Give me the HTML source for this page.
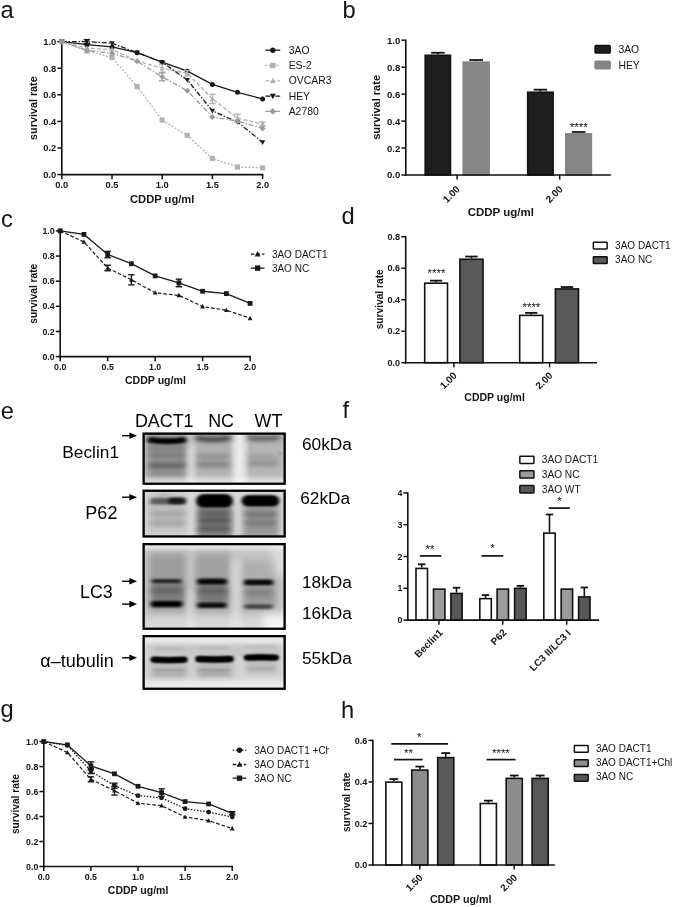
<!DOCTYPE html>
<html lang="en">
<head>
<meta charset="utf-8">
<title>Figure</title>
<style>
html,body{margin:0;padding:0;background:#fff;}
body{width:675px;height:907px;overflow:hidden;}
svg{display:block;font-family:'Liberation Sans', sans-serif;}
</style>
</head>
<body>
<svg width="675" height="907" viewBox="0 0 675 907" font-family='"Liberation Sans", sans-serif'>
<rect width="675" height="907" fill="#fff"/>
<defs>
<filter id="b1" x="-30%" y="-200%" width="160%" height="500%"><feGaussianBlur stdDeviation="2.2 1.1"/></filter>
<filter id="b2" x="-30%" y="-200%" width="160%" height="500%"><feGaussianBlur stdDeviation="3 2"/></filter>
<filter id="b3" x="-50%" y="-50%" width="200%" height="200%"><feGaussianBlur stdDeviation="5 5"/></filter>
<filter id="b4" x="-50%" y="-50%" width="200%" height="200%"><feGaussianBlur stdDeviation="3.2 4"/></filter>
<filter id="u0" filterUnits="userSpaceOnUse" x="130" y="425" width="170" height="275"><feGaussianBlur stdDeviation="1.6 0.8"/></filter>
<filter id="u1" filterUnits="userSpaceOnUse" x="130" y="425" width="170" height="275"><feGaussianBlur stdDeviation="2.2 1.1"/></filter>
<filter id="u2" filterUnits="userSpaceOnUse" x="130" y="425" width="170" height="275"><feGaussianBlur stdDeviation="3 2"/></filter>
<filter id="b0" x="-30%" y="-200%" width="160%" height="500%"><feGaussianBlur stdDeviation="1.6 0.8"/></filter>
<clipPath id="cb0"><rect x="142.5" y="432.5" width="143.3" height="52.39999999999998"/></clipPath>
<clipPath id="cb1"><rect x="142.5" y="489.6" width="143.3" height="48.0"/></clipPath>
<clipPath id="cb2"><rect x="142.5" y="543.0" width="143.3" height="86.89999999999998"/></clipPath>
<clipPath id="cb3"><rect x="142.5" y="635.0" width="143.3" height="54.89999999999998"/></clipPath>
</defs>
<g clip-path="url(#cb0)">
<rect x="142.5" y="432.5" width="143.3" height="52.39999999999998" fill="#cecece"/>
<rect x="146.0" y="430.0" width="41.0" height="50.0" rx="2" fill="#000" opacity="0.26" filter="url(#b4)"/>
<rect x="195.0" y="430.0" width="37.0" height="48.0" rx="2" fill="#000" opacity="0.15" filter="url(#b4)"/>
<rect x="246.0" y="430.0" width="38.0" height="48.0" rx="2" fill="#000" opacity="0.12" filter="url(#b4)"/>
<rect x="234.0" y="430.0" width="11.5" height="60.0" rx="2" fill="#fff" opacity="0.6" filter="url(#b2)"/>
<rect x="187.5" y="446.0" width="7.0" height="44.0" rx="2" fill="#fff" opacity="0.3" filter="url(#b2)"/>
<rect x="140.0" y="478.0" width="150.0" height="10.0" rx="2" fill="#fff" opacity="0.45" filter="url(#b2)"/>
<path d="M150.5,440.0 Q167.0,442.4 183.5,440.0" fill="none" stroke="#000" stroke-width="6.2" stroke-linecap="round" opacity="0.97" filter="url(#u1)"/>
<path d="M197.0,438.2 Q213.0,440.8 229.0,438.2" fill="none" stroke="#000" stroke-width="4.6" stroke-linecap="round" opacity="0.72" filter="url(#u2)"/>
<path d="M249.0,437.8 Q263.5,439.8 278.0,437.8" fill="none" stroke="#000" stroke-width="4.0" stroke-linecap="round" opacity="0.6" filter="url(#u2)"/>
<rect x="148.0" y="445.5" width="38.0" height="5.0" rx="2.5" fill="#000" opacity="0.18" filter="url(#b2)"/>
<rect x="148.0" y="453.2" width="38.0" height="4.5" rx="2.2" fill="#000" opacity="0.22" filter="url(#b2)"/>
<rect x="148.0" y="462.8" width="38.0" height="5.5" rx="2.8" fill="#000" opacity="0.36" filter="url(#b2)"/>
<rect x="150.0" y="472.5" width="34.0" height="3.0" rx="1.5" fill="#000" opacity="0.15" filter="url(#b2)"/>
<rect x="196.0" y="454.5" width="34.0" height="4.0" rx="2.0" fill="#000" opacity="0.22" filter="url(#b2)"/>
<rect x="196.0" y="462.2" width="34.0" height="4.5" rx="2.2" fill="#000" opacity="0.3" filter="url(#b2)"/>
<rect x="248.0" y="455.0" width="30.0" height="4.0" rx="2.0" fill="#000" opacity="0.15" filter="url(#b2)"/>
<rect x="248.0" y="461.2" width="30.0" height="4.5" rx="2.2" fill="#000" opacity="0.24" filter="url(#b2)"/>
<circle cx="280.3" cy="453.5" r="1.1" fill="#000" opacity="0.45" filter="url(#b0)"/>
</g>
<g clip-path="url(#cb1)">
<rect x="142.5" y="489.6" width="143.3" height="48.0" fill="#d8d8d8"/>
<rect x="148.0" y="494.0" width="39.0" height="38.0" rx="2" fill="#000" opacity="0.12" filter="url(#b4)"/>
<rect x="197.0" y="500.0" width="35.0" height="40.0" rx="2" fill="#000" opacity="0.42" filter="url(#b4)"/>
<rect x="243.0" y="500.0" width="36.0" height="40.0" rx="2" fill="#000" opacity="0.3" filter="url(#b4)"/>
<rect x="150.0" y="497.9" width="35.0" height="6.5" rx="3.2" fill="#000" opacity="0.5" filter="url(#b1)"/>
<rect x="168.5" y="497.6" width="17.0" height="6.5" rx="3.2" fill="#000" opacity="0.75" filter="url(#b1)"/>
<rect x="158.5" y="493.8" width="9.0" height="2.5" rx="1.2" fill="#000" opacity="0.2" filter="url(#b2)"/>
<rect x="196.8" y="494.3" width="35.5" height="13.0" rx="6.5" fill="#000" opacity="1.0" filter="url(#b1)"/>
<rect x="198.5" y="495.8" width="32.0" height="10.0" rx="5.0" fill="#000" opacity="1.0" filter="url(#b1)"/>
<rect x="242.2" y="495.3" width="36.5" height="11.0" rx="5.5" fill="#000" opacity="1.0" filter="url(#b1)"/>
<rect x="244.0" y="496.8" width="33.0" height="8.0" rx="4.0" fill="#000" opacity="1.0" filter="url(#b1)"/>
<rect x="198.0" y="511.8" width="33.0" height="3.5" rx="1.8" fill="#000" opacity="0.35" filter="url(#b2)"/>
<rect x="198.0" y="518.5" width="33.0" height="4.0" rx="2.0" fill="#000" opacity="0.4" filter="url(#b2)"/>
<rect x="198.0" y="526.5" width="33.0" height="4.0" rx="2.0" fill="#000" opacity="0.35" filter="url(#b2)"/>
<rect x="244.5" y="512.5" width="32.0" height="4.0" rx="2.0" fill="#000" opacity="0.3" filter="url(#b2)"/>
<rect x="244.5" y="521.0" width="32.0" height="4.0" rx="2.0" fill="#000" opacity="0.25" filter="url(#b2)"/>
<rect x="151.0" y="512.0" width="34.0" height="4.0" rx="2.0" fill="#000" opacity="0.17" filter="url(#b2)"/>
<rect x="151.0" y="521.0" width="34.0" height="4.0" rx="2.0" fill="#000" opacity="0.17" filter="url(#b2)"/>
</g>
<g clip-path="url(#cb2)">
<rect x="142.5" y="543.0" width="143.3" height="86.89999999999998" fill="#c6c6c6"/>
<rect x="140.0" y="540.0" width="150.0" height="9.5" rx="2" fill="#fff" opacity="0.6" filter="url(#b2)"/>
<rect x="149.0" y="553.0" width="37.0" height="59.0" rx="2" fill="#000" opacity="0.21" filter="url(#b4)"/>
<rect x="195.0" y="553.0" width="35.0" height="59.0" rx="2" fill="#000" opacity="0.19" filter="url(#b4)"/>
<rect x="242.0" y="560.0" width="35.0" height="52.0" rx="2" fill="#000" opacity="0.12" filter="url(#b4)"/>
<rect x="152.0" y="583.0" width="32.0" height="20.0" rx="2" fill="#000" opacity="0.2" filter="url(#b2)"/>
<rect x="198.0" y="583.0" width="30.0" height="20.0" rx="2" fill="#000" opacity="0.24" filter="url(#b2)"/>
<rect x="245.0" y="585.0" width="30.0" height="19.0" rx="2" fill="#000" opacity="0.12" filter="url(#b2)"/>
<rect x="272.0" y="545.0" width="18.0" height="30.0" rx="2" fill="#fff" opacity="0.4" filter="url(#b3)"/>
<rect x="262.0" y="614.0" width="28.0" height="20.0" rx="2" fill="#fff" opacity="0.85" filter="url(#b3)"/>
<rect x="140.0" y="617.0" width="122.0" height="17.0" rx="2" fill="#fff" opacity="0.35" filter="url(#b3)"/>
<rect x="186.5" y="590.0" width="8.0" height="44.0" rx="2" fill="#fff" opacity="0.25" filter="url(#b2)"/>
<rect x="231.0" y="560.0" width="10.0" height="74.0" rx="2" fill="#fff" opacity="0.25" filter="url(#b2)"/>
<rect x="151.5" y="579.1" width="30.0" height="4.2" rx="2.1" fill="#000" opacity="0.75" filter="url(#b1)"/>
<rect x="197.0" y="578.5" width="30.0" height="6.0" rx="3.0" fill="#000" opacity="0.95" filter="url(#b1)"/>
<rect x="243.8" y="579.5" width="29.5" height="5.8" rx="2.9" fill="#000" opacity="0.95" filter="url(#b1)"/>
<rect x="150.5" y="588.5" width="32.0" height="4.0" rx="2.0" fill="#000" opacity="0.25" filter="url(#b2)"/>
<rect x="197.5" y="589.0" width="30.0" height="4.0" rx="2.0" fill="#000" opacity="0.25" filter="url(#b2)"/>
<rect x="244.5" y="590.5" width="28.0" height="4.0" rx="2.0" fill="#000" opacity="0.2" filter="url(#b2)"/>
<rect x="150.8" y="601.1" width="31.5" height="6.2" rx="3.1" fill="#000" opacity="1.0" filter="url(#b1)"/>
<rect x="197.2" y="602.4" width="29.5" height="5.6" rx="2.8" fill="#000" opacity="0.92" filter="url(#b1)"/>
<rect x="244.0" y="604.2" width="29.0" height="4.8" rx="2.4" fill="#000" opacity="0.6" filter="url(#b1)"/>
</g>
<g clip-path="url(#cb3)">
<rect x="142.5" y="635.0" width="143.3" height="54.89999999999998" fill="#d4d4d4"/>
<rect x="140.0" y="632.0" width="150.0" height="11.0" rx="2" fill="#fff" opacity="0.55" filter="url(#b2)"/>
<rect x="140.0" y="680.0" width="150.0" height="15.0" rx="2" fill="#fff" opacity="0.5" filter="url(#b2)"/>
<rect x="150.0" y="662.0" width="38.0" height="16.0" rx="2" fill="#000" opacity="0.12" filter="url(#b2)"/>
<rect x="196.0" y="662.0" width="37.0" height="16.0" rx="2" fill="#000" opacity="0.13" filter="url(#b2)"/>
<rect x="245.0" y="660.0" width="33.0" height="14.0" rx="2" fill="#000" opacity="0.1" filter="url(#b2)"/>
<rect x="150.0" y="645.0" width="130.0" height="12.0" rx="2" fill="#000" opacity="0.06" filter="url(#b2)"/>
<path d="M153.4,659.7 Q169.1,660.5 184.8,659.7" fill="none" stroke="#000" stroke-width="5.8" stroke-linecap="round" opacity="1.0" filter="url(#u0)"/>
<path d="M198.2,659.1 Q214.5,659.9 230.8,659.1" fill="none" stroke="#000" stroke-width="6.0" stroke-linecap="round" opacity="1.0" filter="url(#u0)"/>
<path d="M246.7,657.6 Q261.4,657.0 276.0,657.6" fill="none" stroke="#000" stroke-width="5.8" stroke-linecap="round" opacity="1.0" filter="url(#u0)"/>
<path d="M154.5,659.7 Q169.0,660.5 183.5,659.7" fill="none" stroke="#000" stroke-width="4.4" stroke-linecap="round" opacity="1.0" filter="url(#u0)"/>
<path d="M199.5,659.1 Q214.5,659.9 229.5,659.1" fill="none" stroke="#000" stroke-width="4.6" stroke-linecap="round" opacity="1.0" filter="url(#u0)"/>
<path d="M248.0,657.6 Q261.5,657.0 275.0,657.6" fill="none" stroke="#000" stroke-width="4.4" stroke-linecap="round" opacity="1.0" filter="url(#u0)"/>
<rect x="153.0" y="669.0" width="32.0" height="2.6" rx="1.3" fill="#000" opacity="0.16" filter="url(#b1)"/>
<rect x="198.5" y="669.0" width="32.0" height="2.6" rx="1.3" fill="#000" opacity="0.18" filter="url(#b1)"/>
<rect x="247.0" y="667.3" width="28.0" height="2.4" rx="1.2" fill="#000" opacity="0.12" filter="url(#b1)"/>
<rect x="154.0" y="673.4" width="30.0" height="2.2" rx="1.1" fill="#000" opacity="0.1" filter="url(#b1)"/>
<rect x="199.5" y="673.4" width="30.0" height="2.2" rx="1.1" fill="#000" opacity="0.12" filter="url(#b1)"/>
<rect x="154.0" y="647.4" width="30.0" height="2.4" rx="1.2" fill="#000" opacity="0.1" filter="url(#b1)"/>
<rect x="199.5" y="646.4" width="30.0" height="2.4" rx="1.2" fill="#000" opacity="0.1" filter="url(#b1)"/>
<rect x="247.0" y="645.3" width="28.0" height="2.4" rx="1.2" fill="#000" opacity="0.07" filter="url(#b1)"/>
</g>
<rect x="143.65" y="433.65" width="141.0" height="50.09999999999998" fill="none" stroke="#000" stroke-width="2.3"/>
<rect x="143.65" y="490.75" width="141.0" height="45.7" fill="none" stroke="#000" stroke-width="2.3"/>
<rect x="143.65" y="544.15" width="141.0" height="84.59999999999998" fill="none" stroke="#000" stroke-width="2.3"/>
<rect x="143.65" y="636.15" width="141.0" height="52.59999999999998" fill="none" stroke="#000" stroke-width="2.3"/>
<text x="134.9" y="426.9" font-size="17.9" text-anchor="start" fill="#000">DACT1</text>
<text x="208.2" y="426.9" font-size="17.9" text-anchor="start" fill="#000">NC</text>
<text x="254.5" y="426.9" font-size="17.9" text-anchor="start" fill="#000">WT</text>
<text x="119" y="457.6" font-size="17.3" text-anchor="end" fill="#000">Beclin1</text>
<text x="117.4" y="518.5" font-size="18" text-anchor="end" fill="#000">P62</text>
<text x="112.7" y="598.2" font-size="17.8" text-anchor="end" fill="#000">LC3</text>
<text x="113.8" y="667.4" font-size="18" text-anchor="end" fill="#000">α–tubulin</text>
<text x="351.9" y="450" font-size="17.3" text-anchor="end" fill="#000">60kDa</text>
<text x="350.2" y="503.7" font-size="17.3" text-anchor="end" fill="#000">62kDa</text>
<text x="351.9" y="587.7" font-size="17.3" text-anchor="end" fill="#000">18kDa</text>
<text x="351.9" y="618.7" font-size="17.3" text-anchor="end" fill="#000">16kDa</text>
<text x="351.9" y="664.3" font-size="17.3" text-anchor="end" fill="#000">55kDa</text>
<path d="M122.1,435.7 H132.0" stroke="#000" stroke-width="1.4" fill="none"/>
<path d="M137.0,435.7 L129.4,432.4 L129.4,439.0 Z" fill="#000"/>
<path d="M122.1,497.2 H132.0" stroke="#000" stroke-width="1.4" fill="none"/>
<path d="M137.0,497.2 L129.4,493.9 L129.4,500.5 Z" fill="#000"/>
<path d="M122.1,581.3 H132.0" stroke="#000" stroke-width="1.4" fill="none"/>
<path d="M137.0,581.3 L129.4,578.0 L129.4,584.5999999999999 Z" fill="#000"/>
<path d="M122.1,604.1 H132.0" stroke="#000" stroke-width="1.4" fill="none"/>
<path d="M137.0,604.1 L129.4,600.8000000000001 L129.4,607.4 Z" fill="#000"/>
<path d="M122.1,657.8 H132.0" stroke="#000" stroke-width="1.4" fill="none"/>
<path d="M137.0,657.8 L129.4,654.5 L129.4,661.0999999999999 Z" fill="#000"/>
<text x="0.60" y="18.10" font-size="23.7" font-weight="normal" text-anchor="start" fill="#141414">a</text>
<text x="342.60" y="18.10" font-size="23.7" font-weight="normal" text-anchor="start" fill="#141414">b</text>
<text x="0.90" y="226.80" font-size="23.7" font-weight="normal" text-anchor="start" fill="#141414">c</text>
<text x="341.60" y="224.30" font-size="23.7" font-weight="normal" text-anchor="start" fill="#141414">d</text>
<text x="0.70" y="418.50" font-size="23.7" font-weight="normal" text-anchor="start" fill="#141414">e</text>
<text x="342.60" y="417.90" font-size="23.7" font-weight="normal" text-anchor="start" fill="#141414">f</text>
<text x="0.60" y="717.00" font-size="23.7" font-weight="normal" text-anchor="start" fill="#141414">g</text>
<text x="341.10" y="717.80" font-size="23.7" font-weight="normal" text-anchor="start" fill="#141414">h</text>
<line x1="61.80" y1="40.85" x2="61.80" y2="175.40" stroke="#111" stroke-width="1.6" stroke-linecap="butt"/>
<line x1="61.00" y1="174.60" x2="263.40" y2="174.60" stroke="#111" stroke-width="1.6" stroke-linecap="butt"/>
<line x1="57.40" y1="174.60" x2="61.80" y2="174.60" stroke="#111" stroke-width="1.5" stroke-linecap="butt"/>
<text x="56.30" y="177.95" font-size="9.3" font-weight="bold" text-anchor="end" fill="#141414">0.0</text>
<line x1="57.40" y1="148.00" x2="61.80" y2="148.00" stroke="#111" stroke-width="1.5" stroke-linecap="butt"/>
<text x="56.30" y="151.35" font-size="9.3" font-weight="bold" text-anchor="end" fill="#141414">0.2</text>
<line x1="57.40" y1="121.40" x2="61.80" y2="121.40" stroke="#111" stroke-width="1.5" stroke-linecap="butt"/>
<text x="56.30" y="124.75" font-size="9.3" font-weight="bold" text-anchor="end" fill="#141414">0.4</text>
<line x1="57.40" y1="94.80" x2="61.80" y2="94.80" stroke="#111" stroke-width="1.5" stroke-linecap="butt"/>
<text x="56.30" y="98.15" font-size="9.3" font-weight="bold" text-anchor="end" fill="#141414">0.6</text>
<line x1="57.40" y1="68.20" x2="61.80" y2="68.20" stroke="#111" stroke-width="1.5" stroke-linecap="butt"/>
<text x="56.30" y="71.55" font-size="9.3" font-weight="bold" text-anchor="end" fill="#141414">0.8</text>
<line x1="57.40" y1="41.60" x2="61.80" y2="41.60" stroke="#111" stroke-width="1.5" stroke-linecap="butt"/>
<text x="56.30" y="44.95" font-size="9.3" font-weight="bold" text-anchor="end" fill="#141414">1.0</text>
<line x1="61.80" y1="174.60" x2="61.80" y2="179.20" stroke="#111" stroke-width="1.5" stroke-linecap="butt"/>
<text x="61.80" y="188.30" font-size="9.3" font-weight="bold" text-anchor="middle" fill="#141414">0.0</text>
<line x1="112.00" y1="174.60" x2="112.00" y2="179.20" stroke="#111" stroke-width="1.5" stroke-linecap="butt"/>
<text x="112.00" y="188.30" font-size="9.3" font-weight="bold" text-anchor="middle" fill="#141414">0.5</text>
<line x1="162.20" y1="174.60" x2="162.20" y2="179.20" stroke="#111" stroke-width="1.5" stroke-linecap="butt"/>
<text x="162.20" y="188.30" font-size="9.3" font-weight="bold" text-anchor="middle" fill="#141414">1.0</text>
<line x1="212.40" y1="174.60" x2="212.40" y2="179.20" stroke="#111" stroke-width="1.5" stroke-linecap="butt"/>
<text x="212.40" y="188.30" font-size="9.3" font-weight="bold" text-anchor="middle" fill="#141414">1.5</text>
<line x1="262.60" y1="174.60" x2="262.60" y2="179.20" stroke="#111" stroke-width="1.5" stroke-linecap="butt"/>
<text x="262.60" y="188.30" font-size="9.3" font-weight="bold" text-anchor="middle" fill="#141414">2.0</text>
<path d="M61.80,41.60 L86.90,44.66 L112.00,46.92 L137.10,52.64 L162.20,62.22 L187.30,71.13 L212.40,84.43 L237.50,92.27 L262.60,98.92" fill="none" stroke="#1a1a1a" stroke-width="1.3"/>
<circle cx="61.80" cy="41.60" r="2.5" fill="#1a1a1a"/>
<circle cx="86.90" cy="44.66" r="2.5" fill="#1a1a1a"/>
<circle cx="112.00" cy="46.92" r="2.5" fill="#1a1a1a"/>
<circle cx="137.10" cy="52.64" r="2.5" fill="#1a1a1a"/>
<circle cx="162.20" cy="62.22" r="2.5" fill="#1a1a1a"/>
<circle cx="187.30" cy="71.13" r="2.5" fill="#1a1a1a"/>
<circle cx="212.40" cy="84.43" r="2.5" fill="#1a1a1a"/>
<circle cx="237.50" cy="92.27" r="2.5" fill="#1a1a1a"/>
<circle cx="262.60" cy="98.92" r="2.5" fill="#1a1a1a"/>
<path d="M61.80,41.60 L86.90,50.91 L112.00,57.56 L137.10,86.55 L162.20,120.07 L187.30,135.37 L212.40,158.37 L237.50,167.02 L262.60,167.82" fill="none" stroke="#b2b2b2" stroke-width="1.3" stroke-dasharray="2 1.6"/>
<rect x="59.20" y="39.00" width="5.2" height="5.2" fill="#b2b2b2"/>
<rect x="84.30" y="48.31" width="5.2" height="5.2" fill="#b2b2b2"/>
<rect x="109.40" y="54.96" width="5.2" height="5.2" fill="#b2b2b2"/>
<rect x="134.50" y="83.95" width="5.2" height="5.2" fill="#b2b2b2"/>
<rect x="159.60" y="117.47" width="5.2" height="5.2" fill="#b2b2b2"/>
<rect x="184.70" y="132.77" width="5.2" height="5.2" fill="#b2b2b2"/>
<rect x="209.80" y="155.77" width="5.2" height="5.2" fill="#b2b2b2"/>
<rect x="234.90" y="164.42" width="5.2" height="5.2" fill="#b2b2b2"/>
<rect x="260.00" y="165.22" width="5.2" height="5.2" fill="#b2b2b2"/>
<path d="M61.80,41.60 L86.90,48.25 L112.00,49.58 L137.10,60.88 L162.20,68.20 L187.30,73.25 L212.40,98.92 L237.50,118.21 L262.60,124.06" fill="none" stroke="#b2b2b2" stroke-width="1.3" stroke-dasharray="4 2"/>
<line x1="162.20" y1="64.21" x2="162.20" y2="72.19" stroke="#b2b2b2" stroke-width="1.4" stroke-linecap="butt"/>
<line x1="159.00" y1="64.21" x2="165.40" y2="64.21" stroke="#b2b2b2" stroke-width="1.4" stroke-linecap="butt"/>
<line x1="159.00" y1="72.19" x2="165.40" y2="72.19" stroke="#b2b2b2" stroke-width="1.4" stroke-linecap="butt"/>
<line x1="187.30" y1="70.59" x2="187.30" y2="75.91" stroke="#b2b2b2" stroke-width="1.4" stroke-linecap="butt"/>
<line x1="184.10" y1="70.59" x2="190.50" y2="70.59" stroke="#b2b2b2" stroke-width="1.4" stroke-linecap="butt"/>
<line x1="184.10" y1="75.91" x2="190.50" y2="75.91" stroke="#b2b2b2" stroke-width="1.4" stroke-linecap="butt"/>
<line x1="212.40" y1="94.27" x2="212.40" y2="103.58" stroke="#b2b2b2" stroke-width="1.4" stroke-linecap="butt"/>
<line x1="209.20" y1="94.27" x2="215.60" y2="94.27" stroke="#b2b2b2" stroke-width="1.4" stroke-linecap="butt"/>
<line x1="209.20" y1="103.58" x2="215.60" y2="103.58" stroke="#b2b2b2" stroke-width="1.4" stroke-linecap="butt"/>
<line x1="237.50" y1="114.22" x2="237.50" y2="122.20" stroke="#b2b2b2" stroke-width="1.4" stroke-linecap="butt"/>
<line x1="234.30" y1="114.22" x2="240.70" y2="114.22" stroke="#b2b2b2" stroke-width="1.4" stroke-linecap="butt"/>
<line x1="234.30" y1="122.20" x2="240.70" y2="122.20" stroke="#b2b2b2" stroke-width="1.4" stroke-linecap="butt"/>
<line x1="262.60" y1="122.06" x2="262.60" y2="126.06" stroke="#b2b2b2" stroke-width="1.4" stroke-linecap="butt"/>
<line x1="259.40" y1="122.06" x2="265.80" y2="122.06" stroke="#b2b2b2" stroke-width="1.4" stroke-linecap="butt"/>
<line x1="259.40" y1="126.06" x2="265.80" y2="126.06" stroke="#b2b2b2" stroke-width="1.4" stroke-linecap="butt"/>
<polygon points="61.80,38.84 59.16,43.64 64.44,43.64" fill="#b2b2b2"/>
<polygon points="86.90,45.49 84.26,50.29 89.54,50.29" fill="#b2b2b2"/>
<polygon points="112.00,46.82 109.36,51.62 114.64,51.62" fill="#b2b2b2"/>
<polygon points="137.10,58.12 134.46,62.92 139.74,62.92" fill="#b2b2b2"/>
<polygon points="162.20,65.44 159.56,70.24 164.84,70.24" fill="#b2b2b2"/>
<polygon points="187.30,70.49 184.66,75.29 189.94,75.29" fill="#b2b2b2"/>
<polygon points="212.40,96.16 209.76,100.96 215.04,100.96" fill="#b2b2b2"/>
<polygon points="237.50,115.45 234.86,120.25 240.14,120.25" fill="#b2b2b2"/>
<polygon points="262.60,121.30 259.96,126.10 265.24,126.10" fill="#b2b2b2"/>
<path d="M61.80,41.60 L86.90,41.60 L112.00,43.33 L137.10,52.64 L162.20,62.22 L187.30,80.04 L212.40,110.76 L237.50,122.20 L262.60,142.28" fill="none" stroke="#1a1a1a" stroke-width="1.3" stroke-dasharray="5 1.8 1.4 1.8"/>
<line x1="86.90" y1="39.60" x2="86.90" y2="43.59" stroke="#1a1a1a" stroke-width="1.4" stroke-linecap="butt"/>
<line x1="83.70" y1="39.60" x2="90.10" y2="39.60" stroke="#1a1a1a" stroke-width="1.4" stroke-linecap="butt"/>
<line x1="83.70" y1="43.59" x2="90.10" y2="43.59" stroke="#1a1a1a" stroke-width="1.4" stroke-linecap="butt"/>
<polygon points="61.80,44.36 59.16,39.56 64.44,39.56" fill="#1a1a1a"/>
<polygon points="86.90,44.36 84.26,39.56 89.54,39.56" fill="#1a1a1a"/>
<polygon points="112.00,46.09 109.36,41.29 114.64,41.29" fill="#1a1a1a"/>
<polygon points="137.10,55.40 134.46,50.60 139.74,50.60" fill="#1a1a1a"/>
<polygon points="162.20,64.98 159.56,60.18 164.84,60.18" fill="#1a1a1a"/>
<polygon points="187.30,82.80 184.66,78.00 189.94,78.00" fill="#1a1a1a"/>
<polygon points="212.40,113.52 209.76,108.72 215.04,108.72" fill="#1a1a1a"/>
<polygon points="237.50,124.96 234.86,120.16 240.14,120.16" fill="#1a1a1a"/>
<polygon points="262.60,145.04 259.96,140.24 265.24,140.24" fill="#1a1a1a"/>
<path d="M61.80,41.60 L86.90,50.38 L112.00,53.17 L137.10,61.15 L162.20,76.84 L187.30,90.68 L212.40,116.88 L237.50,121.13 L262.60,128.45" fill="none" stroke="#9c9c9c" stroke-width="1.3" stroke-dasharray="5 1.8 1.4 1.8"/>
<line x1="162.20" y1="72.86" x2="162.20" y2="80.83" stroke="#9c9c9c" stroke-width="1.4" stroke-linecap="butt"/>
<line x1="159.00" y1="72.86" x2="165.40" y2="72.86" stroke="#9c9c9c" stroke-width="1.4" stroke-linecap="butt"/>
<line x1="159.00" y1="80.83" x2="165.40" y2="80.83" stroke="#9c9c9c" stroke-width="1.4" stroke-linecap="butt"/>
<polygon points="61.80,38.60 58.80,41.60 61.80,44.60 64.80,41.60" fill="#9c9c9c"/>
<polygon points="86.90,47.38 83.90,50.38 86.90,53.38 89.90,50.38" fill="#9c9c9c"/>
<polygon points="112.00,50.17 109.00,53.17 112.00,56.17 115.00,53.17" fill="#9c9c9c"/>
<polygon points="137.10,58.15 134.10,61.15 137.10,64.15 140.10,61.15" fill="#9c9c9c"/>
<polygon points="162.20,73.84 159.20,76.84 162.20,79.84 165.20,76.84" fill="#9c9c9c"/>
<polygon points="187.30,87.68 184.30,90.68 187.30,93.68 190.30,90.68" fill="#9c9c9c"/>
<polygon points="212.40,113.88 209.40,116.88 212.40,119.88 215.40,116.88" fill="#9c9c9c"/>
<polygon points="237.50,118.13 234.50,121.13 237.50,124.13 240.50,121.13" fill="#9c9c9c"/>
<polygon points="262.60,125.45 259.60,128.45 262.60,131.45 265.60,128.45" fill="#9c9c9c"/>
<text x="162.20" y="203.20" font-size="11.2" font-weight="bold" text-anchor="middle" fill="#141414">CDDP ug/ml</text>
<text x="37.00" y="108.10" font-size="10.8" font-weight="bold" text-anchor="middle" fill="#141414" transform="rotate(-90 37 108.1)">survival rate</text>
<line x1="265.40" y1="50.20" x2="280.20" y2="50.20" stroke="#1a1a1a" stroke-width="1.3"/>
<circle cx="272.80" cy="50.20" r="2.688" fill="#1a1a1a"/>
<text x="288.70" y="53.80" font-size="10.4" font-weight="normal" text-anchor="start" fill="#141414">3AO</text>
<line x1="265.40" y1="65.50" x2="280.20" y2="65.50" stroke="#b2b2b2" stroke-width="1.3" stroke-dasharray="2 1.6"/>
<rect x="270.11" y="62.81" width="5.376" height="5.376" fill="#b2b2b2"/>
<text x="288.70" y="69.10" font-size="10.4" font-weight="normal" text-anchor="start" fill="#141414">ES-2</text>
<line x1="265.40" y1="80.80" x2="280.20" y2="80.80" stroke="#b2b2b2" stroke-width="1.3" stroke-dasharray="4 2"/>
<polygon points="272.80,77.71 269.84,83.08 275.76,83.08" fill="#b2b2b2"/>
<text x="288.70" y="84.40" font-size="10.4" font-weight="normal" text-anchor="start" fill="#141414">OVCAR3</text>
<line x1="265.40" y1="96.10" x2="280.20" y2="96.10" stroke="#1a1a1a" stroke-width="1.3" stroke-dasharray="5 1.8 1.4 1.8"/>
<polygon points="272.80,99.19 269.84,93.82 275.76,93.82" fill="#1a1a1a"/>
<text x="288.70" y="99.70" font-size="10.4" font-weight="normal" text-anchor="start" fill="#141414">HEY</text>
<line x1="265.40" y1="111.40" x2="280.20" y2="111.40" stroke="#9c9c9c" stroke-width="1.3" stroke-dasharray="5 1.8 1.4 1.8"/>
<polygon points="272.80,108.04 269.44,111.40 272.80,114.76 276.16,111.40" fill="#9c9c9c"/>
<text x="288.70" y="115.00" font-size="10.4" font-weight="normal" text-anchor="start" fill="#141414">A2780</text>
<line x1="437.85" y1="52.74" x2="437.85" y2="54.49" stroke="#111" stroke-width="1.6" stroke-linecap="butt"/>
<line x1="431.12" y1="52.74" x2="444.58" y2="52.74" stroke="#111" stroke-width="1.8" stroke-linecap="butt"/>
<rect x="425.20" y="55.29" width="25.30" height="119.71" fill="#1e1e1e" stroke="#111" stroke-width="1.6"/>
<line x1="476.15" y1="60.02" x2="476.15" y2="61.36" stroke="#1a1a1a" stroke-width="1.6" stroke-linecap="butt"/>
<line x1="469.27" y1="60.02" x2="483.02" y2="60.02" stroke="#1a1a1a" stroke-width="1.8" stroke-linecap="butt"/>
<rect x="463.20" y="62.16" width="25.90" height="112.84" fill="#858585" stroke="#858585" stroke-width="1.6"/>
<line x1="540.40" y1="89.67" x2="540.40" y2="91.42" stroke="#111" stroke-width="1.6" stroke-linecap="butt"/>
<line x1="533.65" y1="89.67" x2="547.15" y2="89.67" stroke="#111" stroke-width="1.8" stroke-linecap="butt"/>
<rect x="527.70" y="92.22" width="25.40" height="82.78" fill="#1e1e1e" stroke="#111" stroke-width="1.6"/>
<line x1="578.60" y1="132.00" x2="578.60" y2="133.08" stroke="#1a1a1a" stroke-width="1.6" stroke-linecap="butt"/>
<line x1="571.80" y1="132.00" x2="585.40" y2="132.00" stroke="#1a1a1a" stroke-width="1.8" stroke-linecap="butt"/>
<rect x="565.80" y="133.88" width="25.60" height="41.12" fill="#858585" stroke="#858585" stroke-width="1.6"/>
<line x1="405.80" y1="39.45" x2="405.80" y2="175.80" stroke="#111" stroke-width="1.6" stroke-linecap="butt"/>
<line x1="405.00" y1="175.00" x2="610.80" y2="175.00" stroke="#111" stroke-width="1.6" stroke-linecap="butt"/>
<line x1="401.40" y1="175.00" x2="405.80" y2="175.00" stroke="#111" stroke-width="1.5" stroke-linecap="butt"/>
<text x="400.30" y="178.46" font-size="9.6" font-weight="bold" text-anchor="end" fill="#141414">0.0</text>
<line x1="401.40" y1="148.04" x2="405.80" y2="148.04" stroke="#111" stroke-width="1.5" stroke-linecap="butt"/>
<text x="400.30" y="151.50" font-size="9.6" font-weight="bold" text-anchor="end" fill="#141414">0.2</text>
<line x1="401.40" y1="121.08" x2="405.80" y2="121.08" stroke="#111" stroke-width="1.5" stroke-linecap="butt"/>
<text x="400.30" y="124.54" font-size="9.6" font-weight="bold" text-anchor="end" fill="#141414">0.4</text>
<line x1="401.40" y1="94.12" x2="405.80" y2="94.12" stroke="#111" stroke-width="1.5" stroke-linecap="butt"/>
<text x="400.30" y="97.58" font-size="9.6" font-weight="bold" text-anchor="end" fill="#141414">0.6</text>
<line x1="401.40" y1="67.16" x2="405.80" y2="67.16" stroke="#111" stroke-width="1.5" stroke-linecap="butt"/>
<text x="400.30" y="70.62" font-size="9.6" font-weight="bold" text-anchor="end" fill="#141414">0.8</text>
<line x1="401.40" y1="40.20" x2="405.80" y2="40.20" stroke="#111" stroke-width="1.5" stroke-linecap="butt"/>
<text x="400.30" y="43.66" font-size="9.6" font-weight="bold" text-anchor="end" fill="#141414">1.0</text>
<line x1="457.10" y1="175.00" x2="457.10" y2="179.60" stroke="#111" stroke-width="1.5" stroke-linecap="butt"/>
<line x1="559.70" y1="175.00" x2="559.70" y2="179.60" stroke="#111" stroke-width="1.5" stroke-linecap="butt"/>
<text x="380.30" y="107.40" font-size="11" font-weight="bold" text-anchor="middle" fill="#141414" transform="rotate(-90 380.3 107.4)">survival rate</text>
<text x="500.80" y="215.60" font-size="11.5" font-weight="bold" text-anchor="middle" fill="#141414">CDDP ug/ml</text>
<text x="460.50" y="189.80" font-size="9.9" font-weight="bold" text-anchor="end" fill="#141414" transform="rotate(-45 460.5 189.8)">1.00</text>
<text x="563.30" y="189.80" font-size="9.9" font-weight="bold" text-anchor="end" fill="#141414" transform="rotate(-45 563.3 189.8)">2.00</text>
<text x="578.80" y="130.80" font-size="11.5" font-weight="normal" text-anchor="middle" fill="#141414">****</text>
<rect x="595.05" y="45.45" width="15.10" height="7.60" rx="0.9" fill="#1e1e1e" stroke="#111" stroke-width="1.5"/>
<text x="618.40" y="53.40" font-size="10.4" font-weight="normal" text-anchor="start" fill="#141414">3AO</text>
<rect x="595.05" y="61.15" width="15.10" height="7.50" rx="0.9" fill="#858585" stroke="#858585" stroke-width="1.5"/>
<text x="618.40" y="69.00" font-size="10.4" font-weight="normal" text-anchor="start" fill="#141414">HEY</text>
<line x1="60.20" y1="230.15" x2="60.20" y2="357.40" stroke="#111" stroke-width="1.6" stroke-linecap="butt"/>
<line x1="59.40" y1="356.60" x2="250.90" y2="356.60" stroke="#111" stroke-width="1.6" stroke-linecap="butt"/>
<line x1="55.80" y1="356.60" x2="60.20" y2="356.60" stroke="#111" stroke-width="1.5" stroke-linecap="butt"/>
<text x="54.70" y="359.77" font-size="8.8" font-weight="bold" text-anchor="end" fill="#141414">0.0</text>
<line x1="55.80" y1="331.46" x2="60.20" y2="331.46" stroke="#111" stroke-width="1.5" stroke-linecap="butt"/>
<text x="54.70" y="334.63" font-size="8.8" font-weight="bold" text-anchor="end" fill="#141414">0.2</text>
<line x1="55.80" y1="306.32" x2="60.20" y2="306.32" stroke="#111" stroke-width="1.5" stroke-linecap="butt"/>
<text x="54.70" y="309.49" font-size="8.8" font-weight="bold" text-anchor="end" fill="#141414">0.4</text>
<line x1="55.80" y1="281.18" x2="60.20" y2="281.18" stroke="#111" stroke-width="1.5" stroke-linecap="butt"/>
<text x="54.70" y="284.35" font-size="8.8" font-weight="bold" text-anchor="end" fill="#141414">0.6</text>
<line x1="55.80" y1="256.04" x2="60.20" y2="256.04" stroke="#111" stroke-width="1.5" stroke-linecap="butt"/>
<text x="54.70" y="259.21" font-size="8.8" font-weight="bold" text-anchor="end" fill="#141414">0.8</text>
<line x1="55.80" y1="230.90" x2="60.20" y2="230.90" stroke="#111" stroke-width="1.5" stroke-linecap="butt"/>
<text x="54.70" y="234.07" font-size="8.8" font-weight="bold" text-anchor="end" fill="#141414">1.0</text>
<line x1="60.20" y1="356.60" x2="60.20" y2="361.20" stroke="#111" stroke-width="1.5" stroke-linecap="butt"/>
<text x="60.20" y="370.30" font-size="8.8" font-weight="bold" text-anchor="middle" fill="#141414">0.0</text>
<line x1="107.67" y1="356.60" x2="107.67" y2="361.20" stroke="#111" stroke-width="1.5" stroke-linecap="butt"/>
<text x="107.67" y="370.30" font-size="8.8" font-weight="bold" text-anchor="middle" fill="#141414">0.5</text>
<line x1="155.15" y1="356.60" x2="155.15" y2="361.20" stroke="#111" stroke-width="1.5" stroke-linecap="butt"/>
<text x="155.15" y="370.30" font-size="8.8" font-weight="bold" text-anchor="middle" fill="#141414">1.0</text>
<line x1="202.62" y1="356.60" x2="202.62" y2="361.20" stroke="#111" stroke-width="1.5" stroke-linecap="butt"/>
<text x="202.62" y="370.30" font-size="8.8" font-weight="bold" text-anchor="middle" fill="#141414">1.5</text>
<line x1="250.10" y1="356.60" x2="250.10" y2="361.20" stroke="#111" stroke-width="1.5" stroke-linecap="butt"/>
<text x="250.10" y="370.30" font-size="8.8" font-weight="bold" text-anchor="middle" fill="#141414">2.0</text>
<path d="M60.20,230.90 L83.94,241.96 L107.67,267.98 L131.41,279.80 L155.15,292.74 L178.89,295.38 L202.62,306.57 L226.36,310.22 L250.10,318.26" fill="none" stroke="#1a1a1a" stroke-width="1.2" stroke-dasharray="3.6 2"/>
<line x1="107.67" y1="265.22" x2="107.67" y2="270.75" stroke="#1a1a1a" stroke-width="1.4" stroke-linecap="butt"/>
<line x1="104.47" y1="265.22" x2="110.88" y2="265.22" stroke="#1a1a1a" stroke-width="1.4" stroke-linecap="butt"/>
<line x1="104.47" y1="270.75" x2="110.88" y2="270.75" stroke="#1a1a1a" stroke-width="1.4" stroke-linecap="butt"/>
<line x1="131.41" y1="274.77" x2="131.41" y2="284.83" stroke="#1a1a1a" stroke-width="1.4" stroke-linecap="butt"/>
<line x1="128.21" y1="274.77" x2="134.61" y2="274.77" stroke="#1a1a1a" stroke-width="1.4" stroke-linecap="butt"/>
<line x1="128.21" y1="284.83" x2="134.61" y2="284.83" stroke="#1a1a1a" stroke-width="1.4" stroke-linecap="butt"/>
<polygon points="60.20,228.37 57.78,232.77 62.62,232.77" fill="#1a1a1a"/>
<polygon points="83.94,239.43 81.52,243.83 86.36,243.83" fill="#1a1a1a"/>
<polygon points="107.67,265.45 105.25,269.85 110.09,269.85" fill="#1a1a1a"/>
<polygon points="131.41,277.27 128.99,281.67 133.83,281.67" fill="#1a1a1a"/>
<polygon points="155.15,290.21 152.73,294.61 157.57,294.61" fill="#1a1a1a"/>
<polygon points="178.89,292.85 176.47,297.25 181.31,297.25" fill="#1a1a1a"/>
<polygon points="202.62,304.04 200.21,308.44 205.04,308.44" fill="#1a1a1a"/>
<polygon points="226.36,307.69 223.94,312.09 228.78,312.09" fill="#1a1a1a"/>
<polygon points="250.10,315.73 247.68,320.13 252.52,320.13" fill="#1a1a1a"/>
<path d="M60.20,230.90 L83.94,234.42 L107.67,254.53 L131.41,263.71 L155.15,275.90 L178.89,282.94 L202.62,291.24 L226.36,293.62 L250.10,303.43" fill="none" stroke="#1a1a1a" stroke-width="1.3"/>
<line x1="107.67" y1="251.39" x2="107.67" y2="257.67" stroke="#1a1a1a" stroke-width="1.4" stroke-linecap="butt"/>
<line x1="104.47" y1="251.39" x2="110.88" y2="251.39" stroke="#1a1a1a" stroke-width="1.4" stroke-linecap="butt"/>
<line x1="104.47" y1="257.67" x2="110.88" y2="257.67" stroke="#1a1a1a" stroke-width="1.4" stroke-linecap="butt"/>
<line x1="178.89" y1="279.17" x2="178.89" y2="286.71" stroke="#1a1a1a" stroke-width="1.4" stroke-linecap="butt"/>
<line x1="175.69" y1="279.17" x2="182.09" y2="279.17" stroke="#1a1a1a" stroke-width="1.4" stroke-linecap="butt"/>
<line x1="175.69" y1="286.71" x2="182.09" y2="286.71" stroke="#1a1a1a" stroke-width="1.4" stroke-linecap="butt"/>
<rect x="57.80" y="228.50" width="4.8" height="4.8" fill="#1a1a1a"/>
<rect x="81.54" y="232.02" width="4.8" height="4.8" fill="#1a1a1a"/>
<rect x="105.27" y="252.13" width="4.8" height="4.8" fill="#1a1a1a"/>
<rect x="129.01" y="261.31" width="4.8" height="4.8" fill="#1a1a1a"/>
<rect x="152.75" y="273.50" width="4.8" height="4.8" fill="#1a1a1a"/>
<rect x="176.49" y="280.54" width="4.8" height="4.8" fill="#1a1a1a"/>
<rect x="200.22" y="288.84" width="4.8" height="4.8" fill="#1a1a1a"/>
<rect x="223.96" y="291.22" width="4.8" height="4.8" fill="#1a1a1a"/>
<rect x="247.70" y="301.03" width="4.8" height="4.8" fill="#1a1a1a"/>
<text x="155.40" y="383.70" font-size="10.6" font-weight="bold" text-anchor="middle" fill="#141414">CDDP ug/ml</text>
<text x="36.50" y="293.75" font-size="10.2" font-weight="bold" text-anchor="middle" fill="#141414" transform="rotate(-90 36.5 293.75)">survival rate</text>
<line x1="250.80" y1="254.20" x2="264.40" y2="254.20" stroke="#1a1a1a" stroke-width="1.3" stroke-dasharray="3.6 2"/>
<polygon points="257.60,251.11 254.64,256.48 260.56,256.48" fill="#1a1a1a"/>
<text x="271.90" y="257.80" font-size="10" font-weight="normal" text-anchor="start" fill="#141414">3AO DACT1</text>
<line x1="250.80" y1="268.10" x2="264.40" y2="268.10" stroke="#1a1a1a" stroke-width="1.3"/>
<rect x="254.91" y="265.41" width="5.376" height="5.376" fill="#1a1a1a"/>
<text x="271.90" y="271.70" font-size="10" font-weight="normal" text-anchor="start" fill="#141414">3AO NC</text>
<line x1="436.10" y1="280.64" x2="436.10" y2="282.38" stroke="#111" stroke-width="1.6" stroke-linecap="butt"/>
<line x1="430.00" y1="280.64" x2="442.20" y2="280.64" stroke="#111" stroke-width="1.8" stroke-linecap="butt"/>
<rect x="424.70" y="283.18" width="22.80" height="79.52" fill="#fff" stroke="#111" stroke-width="1.6"/>
<line x1="471.45" y1="256.54" x2="471.45" y2="258.44" stroke="#111" stroke-width="1.6" stroke-linecap="butt"/>
<line x1="465.28" y1="256.54" x2="477.63" y2="256.54" stroke="#111" stroke-width="1.8" stroke-linecap="butt"/>
<rect x="459.90" y="259.24" width="23.10" height="103.46" fill="#585858" stroke="#111" stroke-width="1.6"/>
<line x1="531.20" y1="312.85" x2="531.20" y2="314.58" stroke="#111" stroke-width="1.6" stroke-linecap="butt"/>
<line x1="525.05" y1="312.85" x2="537.35" y2="312.85" stroke="#111" stroke-width="1.8" stroke-linecap="butt"/>
<rect x="519.70" y="315.38" width="23.00" height="47.32" fill="#fff" stroke="#111" stroke-width="1.6"/>
<line x1="566.95" y1="287.02" x2="566.95" y2="288.12" stroke="#111" stroke-width="1.6" stroke-linecap="butt"/>
<line x1="560.78" y1="287.02" x2="573.12" y2="287.02" stroke="#111" stroke-width="1.8" stroke-linecap="butt"/>
<rect x="555.40" y="288.92" width="23.10" height="73.78" fill="#585858" stroke="#111" stroke-width="1.6"/>
<line x1="405.70" y1="235.95" x2="405.70" y2="363.50" stroke="#111" stroke-width="1.6" stroke-linecap="butt"/>
<line x1="404.90" y1="362.70" x2="597.00" y2="362.70" stroke="#111" stroke-width="1.6" stroke-linecap="butt"/>
<line x1="401.30" y1="362.70" x2="405.70" y2="362.70" stroke="#111" stroke-width="1.5" stroke-linecap="butt"/>
<text x="400.20" y="365.98" font-size="9.1" font-weight="bold" text-anchor="end" fill="#141414">0.0</text>
<line x1="401.30" y1="331.20" x2="405.70" y2="331.20" stroke="#111" stroke-width="1.5" stroke-linecap="butt"/>
<text x="400.20" y="334.48" font-size="9.1" font-weight="bold" text-anchor="end" fill="#141414">0.2</text>
<line x1="401.30" y1="299.70" x2="405.70" y2="299.70" stroke="#111" stroke-width="1.5" stroke-linecap="butt"/>
<text x="400.20" y="302.98" font-size="9.1" font-weight="bold" text-anchor="end" fill="#141414">0.4</text>
<line x1="401.30" y1="268.20" x2="405.70" y2="268.20" stroke="#111" stroke-width="1.5" stroke-linecap="butt"/>
<text x="400.20" y="271.48" font-size="9.1" font-weight="bold" text-anchor="end" fill="#141414">0.6</text>
<line x1="401.30" y1="236.70" x2="405.70" y2="236.70" stroke="#111" stroke-width="1.5" stroke-linecap="butt"/>
<text x="400.20" y="239.98" font-size="9.1" font-weight="bold" text-anchor="end" fill="#141414">0.8</text>
<line x1="453.90" y1="362.70" x2="453.90" y2="367.30" stroke="#111" stroke-width="1.5" stroke-linecap="butt"/>
<line x1="549.60" y1="362.70" x2="549.60" y2="367.30" stroke="#111" stroke-width="1.5" stroke-linecap="butt"/>
<text x="382.90" y="299.30" font-size="10.2" font-weight="bold" text-anchor="middle" fill="#141414" transform="rotate(-90 382.9 299.3)">survival rate</text>
<text x="494.60" y="400.60" font-size="10.5" font-weight="bold" text-anchor="middle" fill="#141414">CDDP ug/ml</text>
<text x="457.50" y="376.20" font-size="9.9" font-weight="bold" text-anchor="end" fill="#141414" transform="rotate(-45 457.5 376.2)">1.00</text>
<text x="553.20" y="376.20" font-size="9.9" font-weight="bold" text-anchor="end" fill="#141414" transform="rotate(-45 553.2 376.2)">2.00</text>
<text x="436.50" y="277.20" font-size="11.5" font-weight="normal" text-anchor="middle" fill="#141414">****</text>
<text x="531.40" y="310.50" font-size="11.5" font-weight="normal" text-anchor="middle" fill="#141414">****</text>
<rect x="593.35" y="242.15" width="13.80" height="6.80" rx="0.6" fill="#fff" stroke="#111" stroke-width="1.5"/>
<text x="615.10" y="249.10" font-size="10" font-weight="normal" text-anchor="start" fill="#141414">3AO DACT1</text>
<rect x="593.35" y="256.75" width="13.80" height="6.80" rx="0.6" fill="#585858" stroke="#111" stroke-width="1.5"/>
<text x="615.10" y="263.20" font-size="10" font-weight="normal" text-anchor="start" fill="#141414">3AO NC</text>
<line x1="421.75" y1="564.29" x2="421.75" y2="567.63" stroke="#111" stroke-width="1.6" stroke-linecap="butt"/>
<line x1="418.05" y1="564.29" x2="425.45" y2="564.29" stroke="#111" stroke-width="1.8" stroke-linecap="butt"/>
<rect x="416.00" y="568.43" width="11.50" height="51.67" fill="#fff" stroke="#111" stroke-width="1.6"/>
<rect x="433.50" y="589.10" width="11.40" height="31.00" fill="#9c9c9c" stroke="#111" stroke-width="1.6"/>
<line x1="456.50" y1="587.73" x2="456.50" y2="592.66" stroke="#111" stroke-width="1.6" stroke-linecap="butt"/>
<line x1="452.80" y1="587.73" x2="460.20" y2="587.73" stroke="#111" stroke-width="1.8" stroke-linecap="butt"/>
<rect x="450.90" y="593.46" width="11.20" height="26.64" fill="#585858" stroke="#111" stroke-width="1.6"/>
<line x1="485.55" y1="595.07" x2="485.55" y2="597.84" stroke="#111" stroke-width="1.6" stroke-linecap="butt"/>
<line x1="481.85" y1="595.07" x2="489.25" y2="595.07" stroke="#111" stroke-width="1.8" stroke-linecap="butt"/>
<rect x="479.80" y="598.64" width="11.50" height="21.46" fill="#fff" stroke="#111" stroke-width="1.6"/>
<rect x="497.10" y="589.10" width="11.40" height="31.00" fill="#9c9c9c" stroke="#111" stroke-width="1.6"/>
<line x1="520.35" y1="585.82" x2="520.35" y2="587.54" stroke="#111" stroke-width="1.6" stroke-linecap="butt"/>
<line x1="516.65" y1="585.82" x2="524.05" y2="585.82" stroke="#111" stroke-width="1.8" stroke-linecap="butt"/>
<rect x="514.60" y="588.34" width="11.50" height="31.76" fill="#585858" stroke="#111" stroke-width="1.6"/>
<line x1="549.50" y1="514.52" x2="549.50" y2="532.33" stroke="#111" stroke-width="1.6" stroke-linecap="butt"/>
<line x1="545.80" y1="514.52" x2="553.20" y2="514.52" stroke="#111" stroke-width="1.8" stroke-linecap="butt"/>
<rect x="543.80" y="533.13" width="11.40" height="86.97" fill="#fff" stroke="#111" stroke-width="1.6"/>
<rect x="561.20" y="589.10" width="11.40" height="31.00" fill="#9c9c9c" stroke="#111" stroke-width="1.6"/>
<line x1="584.30" y1="587.50" x2="584.30" y2="596.09" stroke="#111" stroke-width="1.6" stroke-linecap="butt"/>
<line x1="580.60" y1="587.50" x2="588.00" y2="587.50" stroke="#111" stroke-width="1.8" stroke-linecap="butt"/>
<rect x="578.60" y="596.89" width="11.40" height="23.21" fill="#585858" stroke="#111" stroke-width="1.6"/>
<line x1="407.80" y1="492.15" x2="407.80" y2="620.90" stroke="#111" stroke-width="1.6" stroke-linecap="butt"/>
<line x1="407.00" y1="620.10" x2="599.10" y2="620.10" stroke="#111" stroke-width="1.6" stroke-linecap="butt"/>
<line x1="403.40" y1="620.10" x2="407.80" y2="620.10" stroke="#111" stroke-width="1.5" stroke-linecap="butt"/>
<text x="402.30" y="623.27" font-size="8.8" font-weight="bold" text-anchor="end" fill="#141414">0</text>
<line x1="403.40" y1="588.30" x2="407.80" y2="588.30" stroke="#111" stroke-width="1.5" stroke-linecap="butt"/>
<text x="402.30" y="591.47" font-size="8.8" font-weight="bold" text-anchor="end" fill="#141414">1</text>
<line x1="403.40" y1="556.50" x2="407.80" y2="556.50" stroke="#111" stroke-width="1.5" stroke-linecap="butt"/>
<text x="402.30" y="559.67" font-size="8.8" font-weight="bold" text-anchor="end" fill="#141414">2</text>
<line x1="403.40" y1="524.70" x2="407.80" y2="524.70" stroke="#111" stroke-width="1.5" stroke-linecap="butt"/>
<text x="402.30" y="527.87" font-size="8.8" font-weight="bold" text-anchor="end" fill="#141414">3</text>
<line x1="403.40" y1="492.90" x2="407.80" y2="492.90" stroke="#111" stroke-width="1.5" stroke-linecap="butt"/>
<text x="402.30" y="496.07" font-size="8.8" font-weight="bold" text-anchor="end" fill="#141414">4</text>
<line x1="438.90" y1="620.10" x2="438.90" y2="624.70" stroke="#111" stroke-width="1.5" stroke-linecap="butt"/>
<line x1="502.70" y1="620.10" x2="502.70" y2="624.70" stroke="#111" stroke-width="1.5" stroke-linecap="butt"/>
<line x1="566.70" y1="620.10" x2="566.70" y2="624.70" stroke="#111" stroke-width="1.5" stroke-linecap="butt"/>
<line x1="419.80" y1="555.90" x2="441.30" y2="555.90" stroke="#111" stroke-width="1.7" stroke-linecap="butt"/>
<text x="430.00" y="552.50" font-size="11.5" font-weight="normal" text-anchor="middle" fill="#141414">**</text>
<line x1="481.50" y1="555.90" x2="503.30" y2="555.90" stroke="#111" stroke-width="1.7" stroke-linecap="butt"/>
<text x="492.40" y="552.00" font-size="11.5" font-weight="normal" text-anchor="middle" fill="#141414">*</text>
<line x1="548.80" y1="508.10" x2="569.80" y2="508.10" stroke="#111" stroke-width="1.7" stroke-linecap="butt"/>
<text x="559.50" y="505.00" font-size="11.5" font-weight="normal" text-anchor="middle" fill="#141414">*</text>
<text x="443.30" y="633.40" font-size="9.9" font-weight="bold" text-anchor="end" fill="#141414" transform="rotate(-45 443.3 633.4)">Beclin1</text>
<text x="507.20" y="633.20" font-size="9.9" font-weight="bold" text-anchor="end" fill="#141414" transform="rotate(-45 507.2 633.2)">P62</text>
<text x="571.50" y="633.70" font-size="9.9" font-weight="bold" text-anchor="end" fill="#141414" transform="rotate(-45 571.5 633.7)">LC3 II/LC3 I</text>
<rect x="519.85" y="456.25" width="14.10" height="7.20" rx="0.6" fill="#fff" stroke="#111" stroke-width="1.5"/>
<text x="541.80" y="463.30" font-size="10.15" font-weight="normal" text-anchor="start" fill="#141414">3AO DACT1</text>
<rect x="519.85" y="470.85" width="14.10" height="7.20" rx="0.6" fill="#9c9c9c" stroke="#111" stroke-width="1.5"/>
<text x="541.80" y="477.90" font-size="10.15" font-weight="normal" text-anchor="start" fill="#141414">3AO NC</text>
<rect x="519.85" y="485.55" width="14.10" height="7.40" rx="0.6" fill="#585858" stroke="#111" stroke-width="1.5"/>
<text x="541.80" y="492.90" font-size="10.15" font-weight="normal" text-anchor="start" fill="#141414">3AO WT</text>
<line x1="43.80" y1="740.85" x2="43.80" y2="867.30" stroke="#111" stroke-width="1.6" stroke-linecap="butt"/>
<line x1="43.00" y1="866.50" x2="233.00" y2="866.50" stroke="#111" stroke-width="1.6" stroke-linecap="butt"/>
<line x1="39.40" y1="866.50" x2="43.80" y2="866.50" stroke="#111" stroke-width="1.5" stroke-linecap="butt"/>
<text x="38.30" y="869.67" font-size="8.8" font-weight="bold" text-anchor="end" fill="#141414">0.0</text>
<line x1="39.40" y1="841.52" x2="43.80" y2="841.52" stroke="#111" stroke-width="1.5" stroke-linecap="butt"/>
<text x="38.30" y="844.69" font-size="8.8" font-weight="bold" text-anchor="end" fill="#141414">0.2</text>
<line x1="39.40" y1="816.54" x2="43.80" y2="816.54" stroke="#111" stroke-width="1.5" stroke-linecap="butt"/>
<text x="38.30" y="819.71" font-size="8.8" font-weight="bold" text-anchor="end" fill="#141414">0.4</text>
<line x1="39.40" y1="791.56" x2="43.80" y2="791.56" stroke="#111" stroke-width="1.5" stroke-linecap="butt"/>
<text x="38.30" y="794.73" font-size="8.8" font-weight="bold" text-anchor="end" fill="#141414">0.6</text>
<line x1="39.40" y1="766.58" x2="43.80" y2="766.58" stroke="#111" stroke-width="1.5" stroke-linecap="butt"/>
<text x="38.30" y="769.75" font-size="8.8" font-weight="bold" text-anchor="end" fill="#141414">0.8</text>
<line x1="39.40" y1="741.60" x2="43.80" y2="741.60" stroke="#111" stroke-width="1.5" stroke-linecap="butt"/>
<text x="38.30" y="744.77" font-size="8.8" font-weight="bold" text-anchor="end" fill="#141414">1.0</text>
<line x1="43.80" y1="866.50" x2="43.80" y2="871.10" stroke="#111" stroke-width="1.5" stroke-linecap="butt"/>
<text x="43.80" y="880.20" font-size="8.8" font-weight="bold" text-anchor="middle" fill="#141414">0.0</text>
<line x1="90.90" y1="866.50" x2="90.90" y2="871.10" stroke="#111" stroke-width="1.5" stroke-linecap="butt"/>
<text x="90.90" y="880.20" font-size="8.8" font-weight="bold" text-anchor="middle" fill="#141414">0.5</text>
<line x1="138.00" y1="866.50" x2="138.00" y2="871.10" stroke="#111" stroke-width="1.5" stroke-linecap="butt"/>
<text x="138.00" y="880.20" font-size="8.8" font-weight="bold" text-anchor="middle" fill="#141414">1.0</text>
<line x1="185.10" y1="866.50" x2="185.10" y2="871.10" stroke="#111" stroke-width="1.5" stroke-linecap="butt"/>
<text x="185.10" y="880.20" font-size="8.8" font-weight="bold" text-anchor="middle" fill="#141414">1.5</text>
<line x1="232.20" y1="866.50" x2="232.20" y2="871.10" stroke="#111" stroke-width="1.5" stroke-linecap="butt"/>
<text x="232.20" y="880.20" font-size="8.8" font-weight="bold" text-anchor="middle" fill="#141414">2.0</text>
<path d="M43.80,741.60 L67.35,752.47 L90.90,779.32 L114.45,790.69 L138.00,803.18 L161.55,805.67 L185.10,816.91 L208.65,820.66 L232.20,828.53" fill="none" stroke="#1a1a1a" stroke-width="1.2" stroke-dasharray="3.6 2"/>
<line x1="90.90" y1="776.82" x2="90.90" y2="781.82" stroke="#1a1a1a" stroke-width="1.4" stroke-linecap="butt"/>
<line x1="87.70" y1="776.82" x2="94.10" y2="776.82" stroke="#1a1a1a" stroke-width="1.4" stroke-linecap="butt"/>
<line x1="87.70" y1="781.82" x2="94.10" y2="781.82" stroke="#1a1a1a" stroke-width="1.4" stroke-linecap="butt"/>
<line x1="114.45" y1="786.31" x2="114.45" y2="795.06" stroke="#1a1a1a" stroke-width="1.4" stroke-linecap="butt"/>
<line x1="111.25" y1="786.31" x2="117.65" y2="786.31" stroke="#1a1a1a" stroke-width="1.4" stroke-linecap="butt"/>
<line x1="111.25" y1="795.06" x2="117.65" y2="795.06" stroke="#1a1a1a" stroke-width="1.4" stroke-linecap="butt"/>
<polygon points="43.80,739.07 41.38,743.47 46.22,743.47" fill="#1a1a1a"/>
<polygon points="67.35,749.94 64.93,754.34 69.77,754.34" fill="#1a1a1a"/>
<polygon points="90.90,776.79 88.48,781.19 93.32,781.19" fill="#1a1a1a"/>
<polygon points="114.45,788.16 112.03,792.56 116.87,792.56" fill="#1a1a1a"/>
<polygon points="138.00,800.65 135.58,805.05 140.42,805.05" fill="#1a1a1a"/>
<polygon points="161.55,803.14 159.13,807.54 163.97,807.54" fill="#1a1a1a"/>
<polygon points="185.10,814.38 182.68,818.78 187.52,818.78" fill="#1a1a1a"/>
<polygon points="208.65,818.13 206.23,822.53 211.07,822.53" fill="#1a1a1a"/>
<polygon points="232.20,826.00 229.78,830.40 234.62,830.40" fill="#1a1a1a"/>
<path d="M43.80,741.60 L67.35,745.35 L90.90,771.08 L114.45,785.69 L138.00,795.68 L161.55,797.81 L185.10,808.67 L208.65,812.04 L232.20,817.04" fill="none" stroke="#1a1a1a" stroke-width="1.3" stroke-dasharray="1.5 1.6"/>
<line x1="90.90" y1="768.58" x2="90.90" y2="773.57" stroke="#1a1a1a" stroke-width="1.4" stroke-linecap="butt"/>
<line x1="87.70" y1="768.58" x2="94.10" y2="768.58" stroke="#1a1a1a" stroke-width="1.4" stroke-linecap="butt"/>
<line x1="87.70" y1="773.57" x2="94.10" y2="773.57" stroke="#1a1a1a" stroke-width="1.4" stroke-linecap="butt"/>
<line x1="114.45" y1="783.19" x2="114.45" y2="788.19" stroke="#1a1a1a" stroke-width="1.4" stroke-linecap="butt"/>
<line x1="111.25" y1="783.19" x2="117.65" y2="783.19" stroke="#1a1a1a" stroke-width="1.4" stroke-linecap="butt"/>
<line x1="111.25" y1="788.19" x2="117.65" y2="788.19" stroke="#1a1a1a" stroke-width="1.4" stroke-linecap="butt"/>
<circle cx="43.80" cy="741.60" r="2.4" fill="#1a1a1a"/>
<circle cx="67.35" cy="745.35" r="2.4" fill="#1a1a1a"/>
<circle cx="90.90" cy="771.08" r="2.4" fill="#1a1a1a"/>
<circle cx="114.45" cy="785.69" r="2.4" fill="#1a1a1a"/>
<circle cx="138.00" cy="795.68" r="2.4" fill="#1a1a1a"/>
<circle cx="161.55" cy="797.81" r="2.4" fill="#1a1a1a"/>
<circle cx="185.10" cy="808.67" r="2.4" fill="#1a1a1a"/>
<circle cx="208.65" cy="812.04" r="2.4" fill="#1a1a1a"/>
<circle cx="232.20" cy="817.04" r="2.4" fill="#1a1a1a"/>
<path d="M43.80,741.60 L67.35,744.85 L90.90,765.83 L114.45,773.82 L138.00,786.31 L161.55,792.56 L185.10,801.55 L208.65,803.93 L232.20,813.29" fill="none" stroke="#1a1a1a" stroke-width="1.3"/>
<line x1="90.90" y1="761.83" x2="90.90" y2="769.83" stroke="#1a1a1a" stroke-width="1.4" stroke-linecap="butt"/>
<line x1="87.70" y1="761.83" x2="94.10" y2="761.83" stroke="#1a1a1a" stroke-width="1.4" stroke-linecap="butt"/>
<line x1="87.70" y1="769.83" x2="94.10" y2="769.83" stroke="#1a1a1a" stroke-width="1.4" stroke-linecap="butt"/>
<line x1="161.55" y1="788.81" x2="161.55" y2="796.31" stroke="#1a1a1a" stroke-width="1.4" stroke-linecap="butt"/>
<line x1="158.35" y1="788.81" x2="164.75" y2="788.81" stroke="#1a1a1a" stroke-width="1.4" stroke-linecap="butt"/>
<line x1="158.35" y1="796.31" x2="164.75" y2="796.31" stroke="#1a1a1a" stroke-width="1.4" stroke-linecap="butt"/>
<line x1="232.20" y1="811.79" x2="232.20" y2="814.79" stroke="#1a1a1a" stroke-width="1.4" stroke-linecap="butt"/>
<line x1="229.00" y1="811.79" x2="235.40" y2="811.79" stroke="#1a1a1a" stroke-width="1.4" stroke-linecap="butt"/>
<line x1="229.00" y1="814.79" x2="235.40" y2="814.79" stroke="#1a1a1a" stroke-width="1.4" stroke-linecap="butt"/>
<rect x="41.40" y="739.20" width="4.8" height="4.8" fill="#1a1a1a"/>
<rect x="64.95" y="742.45" width="4.8" height="4.8" fill="#1a1a1a"/>
<rect x="88.50" y="763.43" width="4.8" height="4.8" fill="#1a1a1a"/>
<rect x="112.05" y="771.42" width="4.8" height="4.8" fill="#1a1a1a"/>
<rect x="135.60" y="783.91" width="4.8" height="4.8" fill="#1a1a1a"/>
<rect x="159.15" y="790.16" width="4.8" height="4.8" fill="#1a1a1a"/>
<rect x="182.70" y="799.15" width="4.8" height="4.8" fill="#1a1a1a"/>
<rect x="206.25" y="801.53" width="4.8" height="4.8" fill="#1a1a1a"/>
<rect x="229.80" y="810.89" width="4.8" height="4.8" fill="#1a1a1a"/>
<text x="138.10" y="893.50" font-size="10.5" font-weight="bold" text-anchor="middle" fill="#141414">CDDP ug/ml</text>
<text x="19.40" y="804.05" font-size="10.2" font-weight="bold" text-anchor="middle" fill="#141414" transform="rotate(-90 19.4 804.05)">survival rate</text>
<clipPath id="cg"><rect x="225" y="735" width="103.9" height="60"/></clipPath><g clip-path="url(#cg)">
<line x1="232.70" y1="750.20" x2="246.30" y2="750.20" stroke="#1a1a1a" stroke-width="1.3" stroke-dasharray="1.5 1.6"/>
<circle cx="239.50" cy="750.20" r="2.688" fill="#1a1a1a"/>
<text x="254.20" y="753.80" font-size="10" font-weight="normal" text-anchor="start" fill="#141414">3AO DACT1 +Chl</text>
<line x1="232.70" y1="764.50" x2="246.30" y2="764.50" stroke="#1a1a1a" stroke-width="1.3" stroke-dasharray="3.6 2"/>
<polygon points="239.50,761.41 236.54,766.78 242.46,766.78" fill="#1a1a1a"/>
<text x="254.20" y="768.10" font-size="10" font-weight="normal" text-anchor="start" fill="#141414">3AO DACT1</text>
<line x1="232.70" y1="778.20" x2="246.30" y2="778.20" stroke="#1a1a1a" stroke-width="1.3"/>
<rect x="236.81" y="775.51" width="5.376" height="5.376" fill="#1a1a1a"/>
<text x="254.20" y="781.80" font-size="10" font-weight="normal" text-anchor="start" fill="#141414">3AO NC</text>
</g>
<line x1="393.85" y1="779.03" x2="393.85" y2="781.31" stroke="#111" stroke-width="1.6" stroke-linecap="butt"/>
<line x1="389.48" y1="779.03" x2="398.23" y2="779.03" stroke="#111" stroke-width="1.8" stroke-linecap="butt"/>
<rect x="385.90" y="782.11" width="15.90" height="82.89" fill="#fff" stroke="#111" stroke-width="1.6"/>
<line x1="419.85" y1="766.57" x2="419.85" y2="769.27" stroke="#111" stroke-width="1.6" stroke-linecap="butt"/>
<line x1="415.43" y1="766.57" x2="424.28" y2="766.57" stroke="#111" stroke-width="1.8" stroke-linecap="butt"/>
<rect x="411.80" y="770.07" width="16.10" height="94.93" fill="#8c8c8c" stroke="#111" stroke-width="1.6"/>
<line x1="445.75" y1="753.07" x2="445.75" y2="756.81" stroke="#111" stroke-width="1.6" stroke-linecap="butt"/>
<line x1="441.32" y1="753.07" x2="450.18" y2="753.07" stroke="#111" stroke-width="1.8" stroke-linecap="butt"/>
<rect x="437.70" y="757.61" width="16.10" height="107.39" fill="#585858" stroke="#111" stroke-width="1.6"/>
<line x1="488.35" y1="800.62" x2="488.35" y2="802.70" stroke="#111" stroke-width="1.6" stroke-linecap="butt"/>
<line x1="483.93" y1="800.62" x2="492.78" y2="800.62" stroke="#111" stroke-width="1.8" stroke-linecap="butt"/>
<rect x="480.30" y="803.50" width="16.10" height="61.50" fill="#fff" stroke="#111" stroke-width="1.6"/>
<line x1="514.25" y1="775.50" x2="514.25" y2="777.57" stroke="#111" stroke-width="1.6" stroke-linecap="butt"/>
<line x1="509.82" y1="775.50" x2="518.67" y2="775.50" stroke="#111" stroke-width="1.8" stroke-linecap="butt"/>
<rect x="506.20" y="778.37" width="16.10" height="86.63" fill="#8c8c8c" stroke="#111" stroke-width="1.6"/>
<line x1="540.15" y1="775.50" x2="540.15" y2="777.57" stroke="#111" stroke-width="1.6" stroke-linecap="butt"/>
<line x1="535.72" y1="775.50" x2="544.58" y2="775.50" stroke="#111" stroke-width="1.8" stroke-linecap="butt"/>
<rect x="532.10" y="778.37" width="16.10" height="86.63" fill="#585858" stroke="#111" stroke-width="1.6"/>
<line x1="372.90" y1="739.65" x2="372.90" y2="865.80" stroke="#111" stroke-width="1.6" stroke-linecap="butt"/>
<line x1="372.10" y1="865.00" x2="554.80" y2="865.00" stroke="#111" stroke-width="1.6" stroke-linecap="butt"/>
<line x1="368.50" y1="865.00" x2="372.90" y2="865.00" stroke="#111" stroke-width="1.5" stroke-linecap="butt"/>
<text x="367.40" y="868.28" font-size="9.1" font-weight="bold" text-anchor="end" fill="#141414">0.0</text>
<line x1="368.50" y1="823.47" x2="372.90" y2="823.47" stroke="#111" stroke-width="1.5" stroke-linecap="butt"/>
<text x="367.40" y="826.74" font-size="9.1" font-weight="bold" text-anchor="end" fill="#141414">0.2</text>
<line x1="368.50" y1="781.93" x2="372.90" y2="781.93" stroke="#111" stroke-width="1.5" stroke-linecap="butt"/>
<text x="367.40" y="785.21" font-size="9.1" font-weight="bold" text-anchor="end" fill="#141414">0.4</text>
<line x1="368.50" y1="740.40" x2="372.90" y2="740.40" stroke="#111" stroke-width="1.5" stroke-linecap="butt"/>
<text x="367.40" y="743.68" font-size="9.1" font-weight="bold" text-anchor="end" fill="#141414">0.6</text>
<line x1="419.80" y1="865.00" x2="419.80" y2="869.60" stroke="#111" stroke-width="1.5" stroke-linecap="butt"/>
<line x1="514.20" y1="865.00" x2="514.20" y2="869.60" stroke="#111" stroke-width="1.5" stroke-linecap="butt"/>
<text x="350.00" y="802.30" font-size="10.1" font-weight="bold" text-anchor="middle" fill="#141414" transform="rotate(-90 350 802.3)">survival rate</text>
<text x="460.70" y="902.80" font-size="10.7" font-weight="bold" text-anchor="middle" fill="#141414">CDDP ug/ml</text>
<text x="423.30" y="878.30" font-size="9.9" font-weight="bold" text-anchor="end" fill="#141414" transform="rotate(-45 423.3 878.3)">1.50</text>
<text x="517.80" y="878.30" font-size="9.9" font-weight="bold" text-anchor="end" fill="#141414" transform="rotate(-45 517.8 878.3)">2.00</text>
<line x1="391.30" y1="743.80" x2="448.10" y2="743.80" stroke="#111" stroke-width="1.7" stroke-linecap="butt"/>
<text x="419.20" y="741.40" font-size="11.5" font-weight="normal" text-anchor="middle" fill="#141414">*</text>
<line x1="394.00" y1="759.60" x2="422.60" y2="759.60" stroke="#111" stroke-width="1.7" stroke-linecap="butt"/>
<text x="408.40" y="757.30" font-size="11.5" font-weight="normal" text-anchor="middle" fill="#141414">**</text>
<line x1="486.60" y1="759.60" x2="515.60" y2="759.60" stroke="#111" stroke-width="1.7" stroke-linecap="butt"/>
<text x="500.90" y="757.30" font-size="11.5" font-weight="normal" text-anchor="middle" fill="#141414">****</text>
<rect x="574.35" y="745.55" width="13.80" height="6.70" rx="0.6" fill="#fff" stroke="#111" stroke-width="1.5"/>
<text x="595.90" y="752.00" font-size="10" font-weight="normal" text-anchor="start" fill="#141414">3AO DACT1</text>
<rect x="574.35" y="759.75" width="13.80" height="6.70" rx="0.6" fill="#8c8c8c" stroke="#111" stroke-width="1.5"/>
<text x="595.90" y="766.20" font-size="10" font-weight="normal" text-anchor="start" fill="#141414">3AO DACT1+Chl</text>
<rect x="574.35" y="774.45" width="13.80" height="6.70" rx="0.6" fill="#585858" stroke="#111" stroke-width="1.5"/>
<text x="595.90" y="780.40" font-size="10" font-weight="normal" text-anchor="start" fill="#141414">3AO NC</text>
</svg>
</body>
</html>
